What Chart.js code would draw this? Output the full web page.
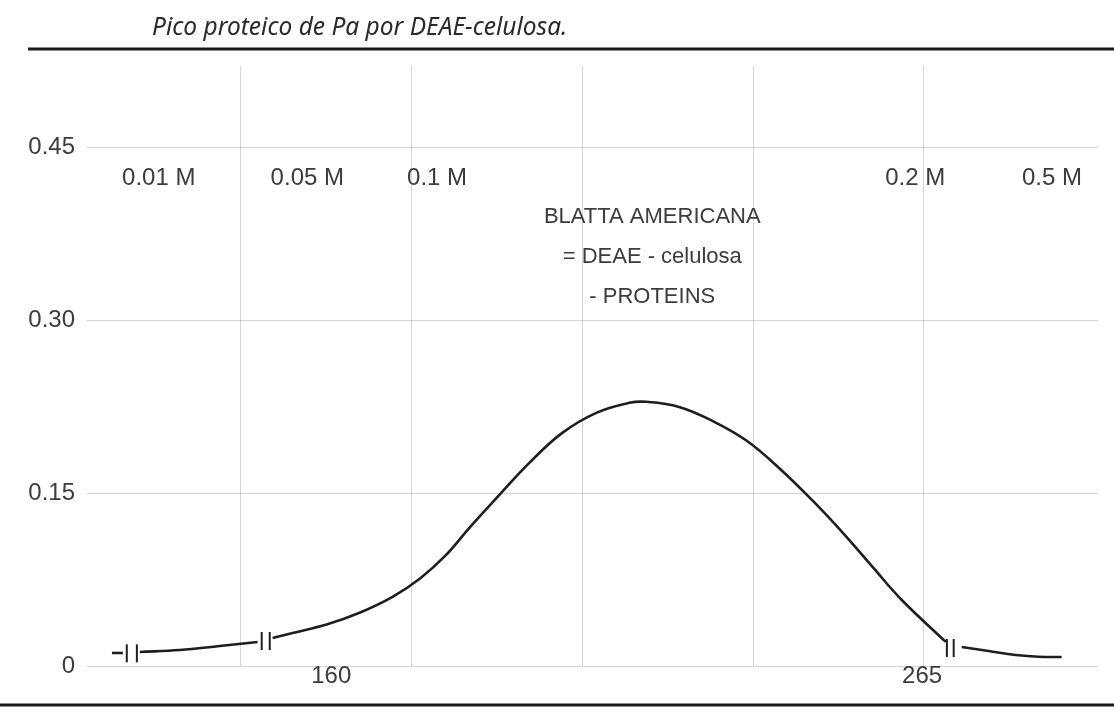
<!DOCTYPE html>
<html>
<head>
<meta charset="utf-8">
<script src="https://cdn.jsdelivr.net/npm/chart.js@4/dist/chart.umd.min.js"></script>
<style>
  html, body { margin: 0; padding: 0; background: #fff; }
  #wrap { width: 1114px; height: 725px; position: relative; }
</style>
</head>
<body>
<div id="wrap"><canvas id="chart"></canvas></div>
<script>
const title = "Pico proteico de Pa por DEAE-celulosa.";

// eje Y (absorbancia)
const yTicks = [0, 0.15, 0.30, 0.45];
const yTickLabels = ["0", "0.15", "0.30", "0.45"];
// lineas verticales de la cuadricula (eje X sin rotulos)
const xGrid = [1, 2, 3, 4, 5];

// tramos del perfil de elucion, separados por las marcas de corte
const segA = [[0.246, 0.0113], [0.310, 0.0113]];
const segB = [[0.409, 0.0122], [0.643, 0.0139], [0.877, 0.0174], [1.099, 0.0209]];
const segC = [
    [1.187, 0.0243], [1.304, 0.0287], [1.503, 0.0360], [1.696, 0.0462], [1.889, 0.0600],
    [2.050, 0.0760], [2.200, 0.0960], [2.339, 0.1200], [2.515, 0.1486], [2.690, 0.1764],
    [2.883, 0.2024], [3.082, 0.2198], [3.275, 0.2285], [3.374, 0.2294], [3.567, 0.2250],
    [3.760, 0.2130], [3.959, 0.1960], [4.152, 0.1720], [4.345, 0.1442], [4.530, 0.1150],
    [4.700, 0.0860], [4.871, 0.0573], [5.129, 0.0209]
];
const segD = [[5.222, 0.0165], [5.380, 0.0130], [5.538, 0.0096], [5.673, 0.0080], [5.807, 0.0078]];

// marcas de corte "||"
const breakX = [0.333, 0.392, 1.123, 1.170, 5.135, 5.175];
const breakY = [0.0110, 0.0110, 0.0217, 0.0217, 0.0156, 0.0156];

// escalones de molaridad
const molarLabels = ["0.01 M", "0.05 M", "0.1 M", "0.2 M", "0.5 M"];
const molarX = [0.52, 1.39, 2.15, 4.95, 5.75];
const molarY = 0.423;

// numeros de fraccion bajo el eje
const fracLabels = ["160", "265"];
const fracX = [1.53, 4.99];

const noteLines = ["BLATTA AMERICANA", "= DEAE - celulosa", "- PROTEINS"];
const noteX = 3.41;
const noteY = 0.390;

const toPts = seg => seg.map(p => ({ x: p[0], y: p[1] }));

const lineStyle = {
    type: "line",
    borderColor: "#1e1e1e",
    borderWidth: 2.6,
    pointRadius: 0,
    fill: false,
    tension: 0.4
};

const decor = {
    id: "decor",
    afterDraw(c) {
        const ctx = c.ctx;
        const xs = c.scales.x, ys = c.scales.y;
        const area = c.chartArea;
        ctx.save();

        // reglas superior e inferior
        ctx.strokeStyle = "#1a1a1a";
        ctx.lineWidth = 3;
        ctx.beginPath();
        ctx.moveTo(28, 49); ctx.lineTo(1114, 49);
        ctx.moveTo(0, 705); ctx.lineTo(1114, 705);
        ctx.stroke();

        // titulo
        ctx.fillStyle = "#2a2a2a";
        ctx.font = "italic 24.5px 'Noto Sans'";
        ctx.textAlign = "left";
        ctx.textBaseline = "alphabetic";
        ctx.fillText(title, 152, 35);

        ctx.fillStyle = "#3c3c3c";
        ctx.font = "24px 'Liberation Sans'";
        ctx.textAlign = "center";
        ctx.textBaseline = "middle";
        molarLabels.forEach((t, i) => {
            ctx.fillText(t, xs.getPixelForValue(molarX[i]), ys.getPixelForValue(molarY));
        });
        fracLabels.forEach((t, i) => {
            ctx.fillText(t, xs.getPixelForValue(fracX[i]), area.bottom + 10);
        });

        ctx.font = "22px 'Liberation Sans'";
        const nx = xs.getPixelForValue(noteX);
        const ny = ys.getPixelForValue(noteY);
        noteLines.forEach((t, i) => ctx.fillText(t, nx, ny + i * 40));

        ctx.restore();
    }
};

new Chart(document.getElementById("chart"), {
    data: {
        datasets: [
            { ...lineStyle, data: toPts(segA) },
            { ...lineStyle, data: toPts(segB) },
            { ...lineStyle, data: toPts(segC) },
            { ...lineStyle, data: toPts(segD) },
            {
                type: "scatter",
                data: breakX.map((x, i) => ({ x, y: breakY[i] })),
                pointStyle: "line",
                rotation: 90,
                radius: 9,
                borderColor: "#1e1e1e",
                borderWidth: 2
            }
        ]
    },
    options: {
        responsive: true,
        maintainAspectRatio: false,
        animation: false,
        layout: { padding: { left: 0, right: 16, top: 66, bottom: 59 } },
        plugins: { legend: { display: false }, tooltip: { enabled: false } },
        scales: {
            x: {
                type: "linear",
                min: 0.1,
                max: 6.02,
                afterBuildTicks: s => { s.ticks = xGrid.map(v => ({ value: v })); },
                afterFit: s => { s.height = 0; },
                ticks: { display: false },
                grid: { color: "rgba(0,0,0,0.17)", lineWidth: 1, drawTicks: false },
                border: { display: false }
            },
            y: {
                min: 0,
                max: 0.521,
                afterBuildTicks: s => { s.ticks = yTicks.map(v => ({ value: v })); },
                afterFit: s => { s.width = 87; },
                ticks: {
                    padding: 12,
                    color: "#3c3c3c",
                    font: { family: "'Liberation Sans'", size: 24 },
                    callback: (v, i) => yTickLabels[i]
                },
                grid: { color: "rgba(0,0,0,0.17)", lineWidth: 1, drawTicks: false },
                border: { display: false }
            }
        }
    },
    plugins: [decor]
});
</script>
</body>
</html>
